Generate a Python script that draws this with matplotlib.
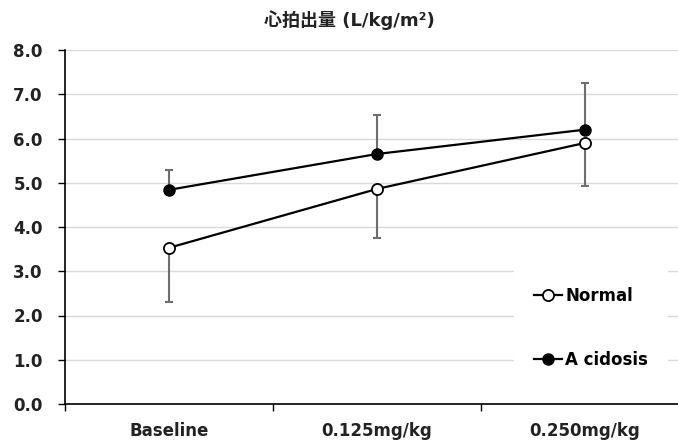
import numpy as np
import matplotlib
matplotlib.use('Agg')
from matplotlib import pyplot as plt

plt.rcParams['font.family'] = ['DejaVu Sans', 'Noto Sans CJK JP']

categories = ['Baseline', '0.125mg/kg', '0.250mg/kg']
normal = [3.53, 4.86, 5.90]
normal_err = [1.22, 1.10, 0.98]      # lower bars only
acidosis = [4.84, 5.65, 6.20]
acidosis_err = [0.45, 0.89, 1.06]    # upper bars only
yticks = [0, 1, 2, 3, 4, 5, 6, 7, 8]

fig = plt.figure(figsize=(6.78, 4.41), dpi=100)
ax = fig.add_axes([65 / 678, 37 / 441, 624 / 678, 354 / 441])

x = np.arange(len(categories))

ax.errorbar(x, normal, yerr=[normal_err, np.zeros(3)], fmt='none',
            ecolor='#6e6e6e', elinewidth=1.5, capsize=3, capthick=1.5, zorder=2)
ax.errorbar(x, acidosis, yerr=[np.zeros(3), acidosis_err], fmt='none',
            ecolor='#6e6e6e', elinewidth=1.5, capsize=3, capthick=1.5, zorder=2)

ax.plot(x, normal, '-o', color='black', lw=1.6, ms=8, mfc='white',
        mec='black', mew=1.3, label='Normal', zorder=3)
ax.plot(x, acidosis, '-o', color='black', lw=1.6, ms=8, mfc='black',
        mec='black', label='A cidosis', zorder=3)

ax.set_xlim(-0.5, 2.5)
ax.set_ylim(0, 8)
ax.set_yticks(yticks)
ax.set_yticklabels(['%.1f' % v for v in yticks], fontsize=12, fontweight='bold',
                   color='#222222')
ax.set_xticks(x)
ax.set_xticklabels(categories, fontsize=12, fontweight='bold', color='#222222')
ax.set_xticks([-0.5, 0.5, 1.5], minor=True)
ax.tick_params(axis='x', which='major', length=0, pad=13)
ax.tick_params(axis='x', which='minor', length=5, width=1, direction='out')
ax.tick_params(axis='y', length=5, width=1, pad=11)

ax.grid(axis='y', color='#d9d9d9', lw=1)
ax.set_axisbelow(True)
for s in ['top', 'right']:
    ax.spines[s].set_visible(False)
ax.spines['left'].set_linewidth(1.2)
ax.spines['bottom'].set_linewidth(1.2)

fig.text(349 / 678, 1 - 20 / 441, '心拍出量 (L/kg/m²)', ha='center', va='center',
         fontsize=13, fontweight='bold', color='#222222')

leg = ax.legend(loc='center', bbox_to_anchor=(0.843, 0.215), frameon=True,
                facecolor='white', edgecolor='white', framealpha=1,
                prop={'size': 12, 'weight': 'bold'}, handlelength=1.7,
                handletextpad=0.2, labelspacing=2.8, borderpad=1.2)
leg.get_frame().set_linewidth(0)

fig.savefig('out.png', dpi=100)
